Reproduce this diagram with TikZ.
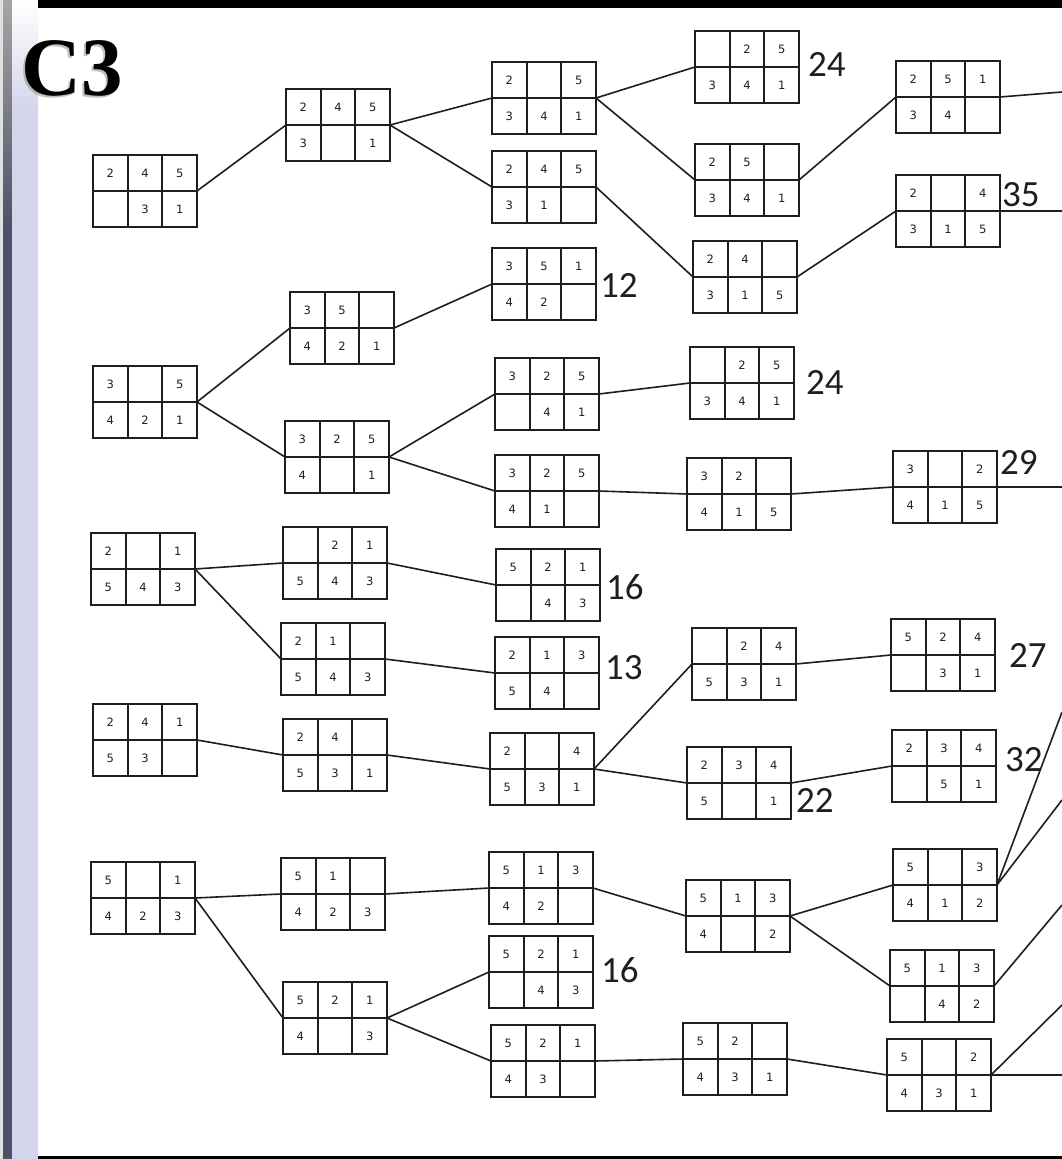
\documentclass[tikz,border=0pt]{standalone}
\usepackage{fontspec}
\setmainfont{Liberation Serif}
\newfontfamily\cellfont{DejaVu Sans}
\newfontfamily\labfont{Carlito}
\usetikzlibrary{calc}
\definecolor{darkbar}{HTML}{4E4F68}
\definecolor{lav}{HTML}{D3D6EA}
\definecolor{ink}{HTML}{1E1E1E}
\newcommand\cellbox[9]{%
  \node[boxn] (#1) at (#2,-#3) {};
  \draw[gridl] (#1.west) -- (#1.east);
  \draw[gridl] ($(#1.north west)!1/3!(#1.north east)$) -- ($(#1.south west)!1/3!(#1.south east)$);
  \draw[gridl] ($(#1.north west)!2/3!(#1.north east)$) -- ($(#1.south west)!2/3!(#1.south east)$);
  \node[cellt] (#1a) at ($(#1.center)+(-34.67,18)$) {#4};
  \node[cellt] (#1b) at ($(#1.center)+(0,18)$) {#5};
  \node[cellt] (#1c) at ($(#1.center)+(34.67,18)$) {#6};
  \node[cellt] (#1d) at ($(#1.center)+(-34.67,-18)$) {#7};
  \node[cellt] (#1e) at ($(#1.center)+(0,-18)$) {#8};
  \node[cellt] (#1f) at ($(#1.center)+(34.67,-18)$) {#9};
}
\begin{document}
\begin{tikzpicture}[x=1pt,y=1pt,
  boxn/.style={draw=ink, line width=2pt, minimum width=104pt, minimum height=72pt, inner sep=0pt, outer sep=0pt},
  gridl/.style={draw=ink, line width=1.8pt},
  conn/.style={draw=ink, line width=1.6pt},
  cellt/.style={font=\cellfont\fontsize{11.5}{11.5}\selectfont, inner sep=0pt, text=ink},
  lab/.style={font=\labfont\fontsize{37}{37}\selectfont, inner sep=0pt, anchor=west, text=ink}]
\useasboundingbox (0,0) rectangle (1062,-1159);
% background
\fill[white] (0,0) rectangle (1062,-1159);
\fill[black!12] (0,0) rectangle (3,-1159);
\fill[darkbar] (3,0) rectangle (12,-1159);
\shade[top color=black!35, bottom color=darkbar] (3,0) rectangle (12,-230);
\fill[lav] (12,0) rectangle (38,-1159);
\shade[top color=white, bottom color=lav] (12,0) rectangle (38,-110);
\fill[black] (38,0) rectangle (1062,-8);
\fill[black] (38,-1156) rectangle (1062,-1159);
% title
\node[font=\bfseries\fontsize{83}{83}\selectfont, anchor=base west, inner sep=0pt, text=black!40, opacity=0.6] (titleshadow) at (19,-97) {C3};
\node[font=\bfseries\fontsize{83}{83}\selectfont, anchor=base west, inner sep=0pt] (title) at (21,-95) {C3};
% column A
\cellbox{A1}{145}{191}{2}{4}{5}{}{3}{1}
\cellbox{A2}{145}{402}{3}{}{5}{4}{2}{1}
\cellbox{A3}{143}{569}{2}{}{1}{5}{4}{3}
\cellbox{A4}{145}{740}{2}{4}{1}{5}{3}{}
\cellbox{A5}{143}{898}{5}{}{1}{4}{2}{3}
% column B
\cellbox{B1}{338}{125}{2}{4}{5}{3}{}{1}
\cellbox{B2}{342}{328}{3}{5}{}{4}{2}{1}
\cellbox{B3}{337}{457}{3}{2}{5}{4}{}{1}
\cellbox{B4}{335}{563}{}{2}{1}{5}{4}{3}
\cellbox{B5}{333}{659}{2}{1}{}{5}{4}{3}
\cellbox{B6}{335}{755}{2}{4}{}{5}{3}{1}
\cellbox{B7}{333}{894}{5}{1}{}{4}{2}{3}
\cellbox{B8}{335}{1018}{5}{2}{1}{4}{}{3}
% column C
\cellbox{C1}{544}{98}{2}{}{5}{3}{4}{1}
\cellbox{C2}{544}{187}{2}{4}{5}{3}{1}{}
\cellbox{C3}{544}{284}{3}{5}{1}{4}{2}{}
\cellbox{C4}{547}{394}{3}{2}{5}{}{4}{1}
\cellbox{C5}{547}{491}{3}{2}{5}{4}{1}{}
\cellbox{C6}{548}{585}{5}{2}{1}{}{4}{3}
\cellbox{C7}{547}{673}{2}{1}{3}{5}{4}{}
\cellbox{C8}{542}{769}{2}{}{4}{5}{3}{1}
\cellbox{C9}{541}{888}{5}{1}{3}{4}{2}{}
\cellbox{C10}{541}{972}{5}{2}{1}{}{4}{3}
\cellbox{C11}{543}{1061}{5}{2}{1}{4}{3}{}
% column D
\cellbox{D1}{747}{67}{}{2}{5}{3}{4}{1}
\cellbox{D2}{747}{180}{2}{5}{}{3}{4}{1}
\cellbox{D3}{745}{277}{2}{4}{}{3}{1}{5}
\cellbox{D4}{742}{383}{}{2}{5}{3}{4}{1}
\cellbox{D5}{739}{494}{3}{2}{}{4}{1}{5}
\cellbox{D6}{744}{664}{}{2}{4}{5}{3}{1}
\cellbox{D7}{739}{783}{2}{3}{4}{5}{}{1}
\cellbox{D8}{738}{916}{5}{1}{3}{4}{}{2}
\cellbox{D9}{735}{1059}{5}{2}{}{4}{3}{1}
% column E
\cellbox{E1}{948}{97}{2}{5}{1}{3}{4}{}
\cellbox{E2}{948}{211}{2}{}{4}{3}{1}{5}
\cellbox{E3}{945}{487}{3}{}{2}{4}{1}{5}
\cellbox{E4}{943}{655}{5}{2}{4}{}{3}{1}
\cellbox{E5}{944}{766}{2}{3}{4}{}{5}{1}
\cellbox{E6}{945}{885}{5}{}{3}{4}{1}{2}
\cellbox{E7}{942}{986}{5}{1}{3}{}{4}{2}
\cellbox{E8}{939}{1075}{5}{}{2}{4}{3}{1}
% labels
\node[lab] (L1) at ($(D1.east)+(9,3)$) {24};
\node[lab] (L2) at ($(E2.east)+(2,16)$) {35};
\node[lab] (L3) at ($(C3.east)+(4,-1)$) {12};
\node[lab] (L4) at ($(D4.east)+(12,1)$) {24};
\node[lab] (L5) at ($(E3.east)+(3,25)$) {29};
\node[lab] (L6) at ($(C6.east)+(6,-2)$) {16};
\node[lab] (L7) at ($(C7.east)+(6,5)$) {13};
\node[lab] (L8) at ($(E4.east)+(14,0)$) {27};
\node[lab] (L9) at ($(E5.east)+(9,6)$) {32};
\node[lab] (L10) at ($(D7.east)+(5,-17)$) {22};
\node[lab] (L11) at ($(C10.east)+(8,2)$) {16};
% off-picture ends
\coordinate (o1) at (1062,-92);
\coordinate (o2) at (1062,-211);
\coordinate (o3) at (1062,-487);
\coordinate (o4) at (1062,-712);
\coordinate (o5) at (1062,-800);
\coordinate (o6) at (1062,-905);
\coordinate (o7) at (1062,-1005);
\coordinate (o8) at (1062,-1075);
% connectors
\draw[conn] (A1.east) -- (B1.west);
\draw[conn] (B1.east) -- (C1.west);
\draw[conn] (B1.east) -- (C2.west);
\draw[conn] (C1.east) -- (D1.west);
\draw[conn] (C1.east) -- (D2.west);
\draw[conn] (C2.east) -- (D3.west);
\draw[conn] (D2.east) -- (E1.west);
\draw[conn] (D3.east) -- (E2.west);
\draw[conn] (E1.east) -- (o1);
\draw[conn] (E2.east) -- (o2);
\draw[conn] (A2.east) -- (B2.west);
\draw[conn] (A2.east) -- (B3.west);
\draw[conn] (B2.east) -- (C3.west);
\draw[conn] (B3.east) -- (C4.west);
\draw[conn] (B3.east) -- (C5.west);
\draw[conn] (C4.east) -- (D4.west);
\draw[conn] (C5.east) -- (D5.west);
\draw[conn] (D5.east) -- (E3.west);
\draw[conn] (E3.east) -- (o3);
\draw[conn] (A3.east) -- (B4.west);
\draw[conn] (A3.east) -- (B5.west);
\draw[conn] (B4.east) -- (C6.west);
\draw[conn] (B5.east) -- (C7.west);
\draw[conn] (A4.east) -- (B6.west);
\draw[conn] (B6.east) -- (C8.west);
\draw[conn] (C8.east) -- (D6.west);
\draw[conn] (C8.east) -- (D7.west);
\draw[conn] (D6.east) -- (E4.west);
\draw[conn] (D7.east) -- (E5.west);
\draw[conn] (A5.east) -- (B7.west);
\draw[conn] (A5.east) -- (B8.west);
\draw[conn] (B7.east) -- (C9.west);
\draw[conn] (C9.east) -- (D8.west);
\draw[conn] (D8.east) -- (E6.west);
\draw[conn] (D8.east) -- (E7.west);
\draw[conn] (B8.east) -- (C10.west);
\draw[conn] (B8.east) -- (C11.west);
\draw[conn] (C11.east) -- (D9.west);
\draw[conn] (D9.east) -- (E8.west);
\draw[conn] (E6.east) -- (o4);
\draw[conn] (E6.east) -- (o5);
\draw[conn] (E7.east) -- (o6);
\draw[conn] (E8.east) -- (o7);
\draw[conn] (E8.east) -- (o8);
\end{tikzpicture}
\end{document}
